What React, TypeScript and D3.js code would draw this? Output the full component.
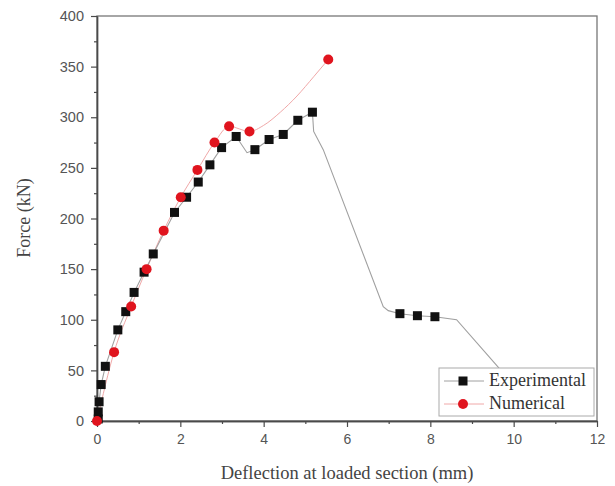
import React, { useEffect, useRef } from 'react';
import * as d3 from 'd3';

// experimental curve (line) and the points that carry a marker
const expLineX = [0, 0.03, 0.03, 0.05, 0.1, 0.2, 0.5, 0.69, 0.89, 1.13, 1.35, 1.86, 2.15, 2.43, 2.71, 2.99, 3.34, 3.6, 3.79, 4.13, 4.47, 4.82, 5.17, 5.2, 5.43, 6.87, 6.99, 7.27, 7.69, 8.11, 8.63, 10.4];
const expLineY = [0, 2, 9, 19, 36, 54, 90, 108, 127, 147, 165, 206, 221, 236, 253, 270, 281, 265, 268, 278, 283, 297, 305, 286, 268, 113, 109, 106, 104, 103, 100, 17];
const expMarkX = [0.03, 0.03, 0.05, 0.1, 0.2, 0.5, 0.69, 0.89, 1.13, 1.35, 1.86, 2.15, 2.43, 2.71, 2.99, 3.34, 3.79, 4.13, 4.47, 4.82, 5.17, 7.27, 7.69, 8.11];
const expMarkY = [2, 9, 19, 36, 54, 90, 108, 127, 147, 165, 206, 221, 236, 253, 270, 281, 268, 278, 283, 297, 305, 106, 104, 103];

// numerical curve and its markers
const numLineX = [0, 0.41, 0.82, 1.19, 1.6, 2.01, 2.41, 2.82, 3.17, 3.66, 4.0, 4.4, 4.8, 5.2, 5.55];
const numLineY = [0, 68, 113, 150, 188, 221, 248, 275, 291, 286, 292, 305, 321, 340, 357];
const numMarkX = [0, 0.41, 0.82, 1.19, 1.6, 2.01, 2.41, 2.82, 3.17, 3.66, 5.55];
const numMarkY = [0, 68, 113, 150, 188, 221, 248, 275, 291, 286, 357];

const xTicks = [0, 2, 4, 6, 8, 10, 12];
const yTicks = [0, 50, 100, 150, 200, 250, 300, 350, 400];
const seriesNames = ['Experimental', 'Numerical'];

const W = 615;
const H = 486;

const App = () => {
	const ref = useRef<SVGSVGElement>(null);

	useEffect(() => {
		document.body.style.margin = '0';
		const svg = d3.select(ref.current);
		svg.selectAll('*').remove();

		const m = { l: 97, r: 597, t: 16, b: 421 };
		const x = d3.scaleLinear().domain([0, 12]).range([m.l, m.r]);
		const y = d3.scaleLinear().domain([0, 400]).range([m.b, m.t]);

		const sans = 'Liberation Sans, Arial, sans-serif';
		const serif = 'Liberation Serif, Times New Roman, serif';
		const axisCol = '#4a4a4a';

		svg.append('rect').attr('width', W).attr('height', H).attr('fill', '#fff');

		// frame
		svg.append('rect')
			.attr('x', m.l)
			.attr('y', m.t)
			.attr('width', m.r - m.l)
			.attr('height', m.b - m.t)
			.attr('fill', 'none')
			.attr('stroke', '#777')
			.attr('stroke-width', 1.3);

		// axes
		const xAxis = d3.axisBottom(x).tickValues(xTicks).tickSize(6).tickSizeOuter(0).tickFormat(d3.format('d'));
		const xg = svg.append('g').attr('transform', `translate(0,${m.b})`).call(xAxis);
		const xMinor = d3.axisBottom(x).tickValues(d3.range(1, 12, 2)).tickSize(3).tickSizeOuter(0).tickFormat(() => '');
		svg.append('g').attr('transform', `translate(0,${m.b})`).call(xMinor);

		const yAxis = d3.axisLeft(y).tickValues(yTicks).tickSize(6).tickSizeOuter(0);
		const yg = svg.append('g').attr('transform', `translate(${m.l},0)`).call(yAxis);
		const yMinor = d3.axisLeft(y).tickValues(d3.range(25, 400, 50)).tickSize(3).tickSizeOuter(0).tickFormat(() => '');
		svg.append('g').attr('transform', `translate(${m.l},0)`).call(yMinor);

		svg.selectAll('.domain').attr('stroke', axisCol).attr('stroke-width', 1.4);
		svg.selectAll('.tick line').attr('stroke', axisCol).attr('stroke-width', 1.2);
		xg.selectAll('.tick text')
			.attr('font-family', sans)
			.attr('font-size', 14)
			.attr('fill', '#555')
			.attr('dy', '1.0em');
		yg.selectAll('.tick text')
			.attr('font-family', sans)
			.attr('font-size', 14.5)
			.attr('fill', '#555')
			.attr('x', -13);

		// titles
		svg.append('text')
			.attr('x', 347)
			.attr('y', 479)
			.attr('text-anchor', 'middle')
			.attr('font-family', serif)
			.attr('font-size', 18.5)
			.attr('fill', '#444')
			.text('Deflection at loaded section (mm)');
		svg.append('text')
			.attr('transform', `translate(30,218) rotate(-90)`)
			.attr('text-anchor', 'middle')
			.attr('font-family', serif)
			.attr('font-size', 18)
			.attr('fill', '#444')
			.text('Force (kN)');

		const expPts = expLineX.map((v, i) => [x(v), y(expLineY[i])]);
		const numPts = numLineX.map((v, i) => [x(v), y(numLineY[i])]);

		svg.append('path')
			.attr('d', d3.line().curve(d3.curveMonotoneX)(numPts as any))
			.attr('fill', 'none')
			.attr('stroke', '#f0a8a8')
			.attr('stroke-width', 1);
		svg.append('path')
			.attr('d', d3.line()(expPts as any))
			.attr('fill', 'none')
			.attr('stroke', '#a0a0a0')
			.attr('stroke-width', 1.1);

		const sq = 9;
		svg.append('g')
			.selectAll('rect')
			.data(expMarkX.map((v, i) => [v, expMarkY[i]]))
			.join('rect')
			.attr('x', d => x(d[0]) - sq / 2)
			.attr('y', d => y(d[1]) - sq / 2)
			.attr('width', sq)
			.attr('height', sq)
			.attr('fill', '#111');

		svg.append('g')
			.selectAll('circle')
			.data(numMarkX.map((v, i) => [v, numMarkY[i]]))
			.join('circle')
			.attr('cx', d => x(d[0]))
			.attr('cy', d => y(d[1]))
			.attr('r', 5)
			.attr('fill', '#e0141e');

		// legend
		const lg = svg.append('g');
		lg.append('rect')
			.attr('x', 439)
			.attr('y', 368)
			.attr('width', 155)
			.attr('height', 48)
			.attr('fill', '#fff')
			.attr('stroke', '#aaa')
			.attr('stroke-width', 1);
		seriesNames.forEach((name, i) => {
			const cy = 381 + i * 23;
			lg.append('line')
				.attr('x1', 444)
				.attr('x2', 484)
				.attr('y1', cy)
				.attr('y2', cy)
				.attr('stroke', i === 0 ? '#a0a0a0' : '#f0a8a8')
				.attr('stroke-width', 1);
			if (i === 0) {
				lg.append('rect')
					.attr('x', 463 - sq / 2)
					.attr('y', cy - sq / 2)
					.attr('width', sq)
					.attr('height', sq)
					.attr('fill', '#111');
			} else {
				lg.append('circle').attr('cx', 463).attr('cy', cy).attr('r', 5).attr('fill', '#e0141e');
			}
			lg.append('text')
				.attr('x', 489)
				.attr('y', cy + 5)
				.attr('font-family', serif)
				.attr('font-size', 18)
				.attr('fill', '#333')
				.text(name);
		});
	});

	return <svg ref={ref} width={W} height={H} style={{ display: 'block' }}></svg>;
};

export default App;
